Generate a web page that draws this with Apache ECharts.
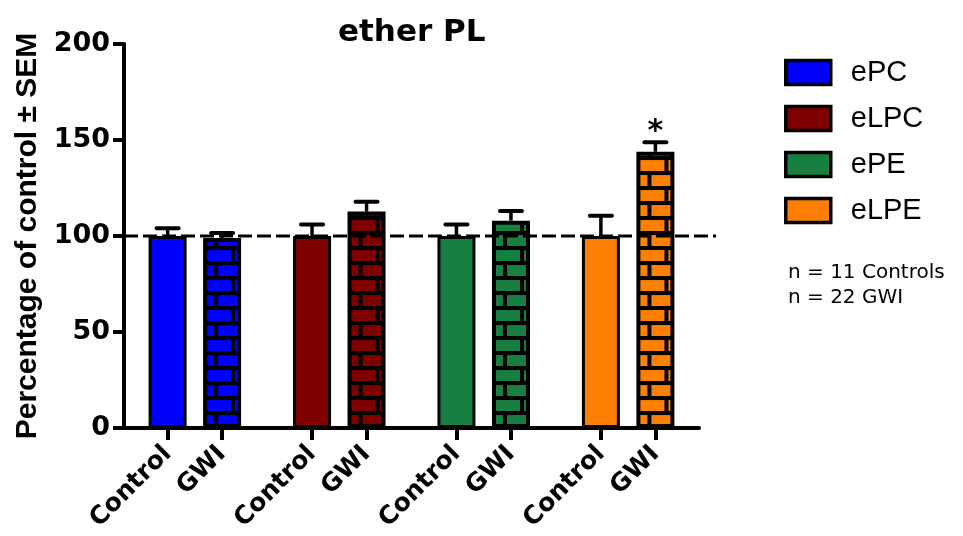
<!DOCTYPE html>
<html>
<head>
<meta charset="utf-8">
<script src="https://cdn.jsdelivr.net/npm/echarts@6/dist/echarts.min.js"></script>
<style>
html,body{margin:0;padding:0;background:#fff;}
#chart{width:963px;height:536px;}
</style>
</head>
<body>
<div id="chart"></div>
<script>
// ---- data ----
const groups = ['ePC', 'eLPC', 'ePE', 'eLPE'];
const conditions = ['Control', 'GWI'];
const controlMean = [100, 100, 100, 100];
const controlSem = [4, 6, 6, 10.5];
const gwiMean = [99, 112.7, 108, 143.9];
const gwiSem = [2.5, 5.2, 5, 4.9];
const significance = ['', '', '', '*'];
const yTicks = [0, 50, 100, 150, 200];
const referenceLevel = 100;
const noteLines = ['n = 11 Controls', 'n = 22 GWI'];
const colors = ['#0000FF', '#800000', '#178040', '#FF8000'];

// ---- layout helpers (slot positions on the x scale) ----
const GROUP_STEP = 2.65, OFFSET = 0.8, XMAX = 10.55;
function slot(g, c) { return +(g * GROUP_STEP + c + OFFSET).toFixed(4); }
const slotValues = [], slotLabels = [];
groups.forEach((g, gi) => conditions.forEach((c, ci) => { slotValues.push(slot(gi, ci)); slotLabels.push(c); }));

const BAR_W = 38;
const F_BOLD = '"DejaVu Sans", sans-serif';

function brickCanvas(color) {
  const c = document.createElement('canvas');
  c.width = 30; c.height = 30;
  const ctx = c.getContext('2d');
  ctx.fillStyle = '#000'; ctx.fillRect(0, 0, 30, 30);
  ctx.fillStyle = color;
  ctx.fillRect(0, 2, 26, 11);
  ctx.fillRect(0, 17, 9, 11);
  ctx.fillRect(13, 17, 17, 11);
  return c;
}

const chart = echarts.init(document.getElementById('chart'), null, {renderer: 'canvas'});

function buildSeries(patternFor) {
  const series = groups.map((name, gi) => ({
    name: name,
    type: 'bar',
    xAxisIndex: 0, yAxisIndex: 0,
    barWidth: BAR_W,
    barGap: '-100%',
    itemStyle: {color: colors[gi], borderColor: '#000', borderWidth: 3},
    emphasis: {disabled: true},
    data: [
      {value: [slot(gi, 0), controlMean[gi]]},
      {value: [slot(gi, 1), gwiMean[gi]],
       itemStyle: {color: patternFor ? patternFor(gi) : colors[gi], borderColor: '#000', borderWidth: 4}}
    ],
    z: 2
  }));
  const errData = [];
  groups.forEach((g, gi) => {
    errData.push([slot(gi, 0), controlMean[gi], controlSem[gi], '']);
    errData.push([slot(gi, 1), gwiMean[gi], gwiSem[gi], significance[gi]]);
  });
  series.push({
    type: 'custom',
    name: 'sem',
    xAxisIndex: 0, yAxisIndex: 0,
    z: 3,
    silent: true,
    data: errData,
    renderItem: function (params, api) {
      const x = api.value(0), m = api.value(1), s = api.value(2);
      const sig = errData[params.dataIndex][3];
      const base = api.coord([x, m]);
      const top = api.coord([x, m + s]);
      const children = [
        {type: 'line', shape: {x1: base[0], y1: base[1], x2: top[0], y2: top[1]},
         style: {stroke: '#000', lineWidth: 3.5}},
        {type: 'line', shape: {x1: top[0] - 11, y1: top[1], x2: top[0] + 11, y2: top[1]},
         style: {stroke: '#000', lineWidth: 4, lineCap: 'round'}}
      ];
      if (sig) {
        children.push({type: 'text', x: top[0], y: top[1] + 5,
          style: {text: sig, fill: '#000', font: 'bold 30px ' + F_BOLD, align: 'center', verticalAlign: 'bottom'}});
      }
      return {type: 'group', children: children};
    }
  });
  series.push({
    type: 'line',
    name: 'ref',
    xAxisIndex: 1, yAxisIndex: 1,
    symbol: 'none',
    silent: true,
    z: 5,
    lineStyle: {color: '#000', width: 3, type: [14, 5]},
    data: [[0, referenceLevel], [1, referenceLevel]]
  });
  return series;
}

const option = {
  backgroundColor: '#fff',
  animation: false,
  title: {
    text: 'ether PL',
    left: 333, top: 12,
    textStyle: {fontFamily: F_BOLD, fontWeight: 'bold', fontSize: 31, color: '#000'}
  },
  legend: {
    data: groups,
    orient: 'vertical',
    left: 779, top: 53,
    icon: 'rect',
    itemWidth: 45, itemHeight: 24, itemGap: 17,
    itemStyle: {borderColor: '#000', borderWidth: 3.5},
    selectedMode: false,
    textStyle: {fontFamily: '"Liberation Sans", Arial, sans-serif', fontSize: 29, lineHeight: 24, color: '#000', padding: [0, 0, 0, 15]}
  },
  graphic: [{
    type: 'text', left: 788, top: 260,
    style: {text: noteLines.join('\n'), font: '20px "DejaVu Sans", sans-serif', fill: '#000', lineHeight: 25}
  }],
  grid: [
    {left: 124, top: 44, width: 575, height: 384},
    {left: 124, top: 44, width: 592, height: 384}
  ],
  xAxis: [{
    type: 'value', gridIndex: 0, min: 0, max: XMAX,
    axisLine: {show: true, lineStyle: {color: '#000', width: 4}},
    splitLine: {show: false},
    axisTick: {show: true, customValues: slotValues, length: 12, lineStyle: {color: '#000', width: 4}},
    axisLabel: {
      customValues: slotValues, rotate: 45, margin: 22,
      fontFamily: F_BOLD, fontWeight: 'bold', fontSize: 25, color: '#000',
      formatter: function (v) {
        const i = slotValues.findIndex(s => Math.abs(s - v) < 1e-3);
        return i >= 0 ? slotLabels[i] : '';
      }
    }
  }, {
    type: 'value', gridIndex: 1, min: 0, max: 1, show: false
  }],
  yAxis: [{
    type: 'value', gridIndex: 0, min: yTicks[0], max: yTicks[yTicks.length - 1], interval: 50,
    name: 'Percentage of control ± SEM',
    nameLocation: 'middle', nameRotate: 90, nameGap: 80,
    nameTextStyle: {fontFamily: '"Liberation Sans", Arial, sans-serif', fontWeight: 'bold', fontSize: 30, color: '#000'},
    axisLine: {show: true, lineStyle: {color: '#000', width: 4}},
    splitLine: {show: false},
    axisTick: {show: true, length: 11, lineStyle: {color: '#000', width: 4}},
    axisLabel: {margin: 14, fontFamily: F_BOLD, fontWeight: 'bold', fontSize: 27, color: '#000'}
  }, {
    type: 'value', gridIndex: 1, min: 0, max: 200, show: false
  }],
  series: buildSeries(null)
};
chart.setOption(option);

// brick fill aligned to each GWI bar
const bottomPx = chart.convertToPixel({yAxisIndex: 0}, 0);
const bricks = colors.map(brickCanvas);
chart.setOption({series: buildSeries(function (gi) {
  const cx = chart.convertToPixel({xAxisIndex: 0}, slot(gi, 1));
  return {image: bricks[gi], repeat: 'repeat', x: cx - BAR_W / 2 + 2, y: bottomPx};
})});
</script>
</body>
</html>
